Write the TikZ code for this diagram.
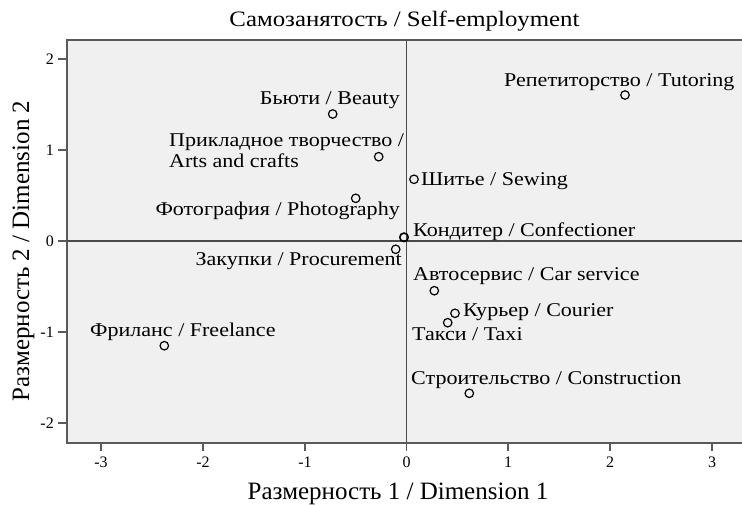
\documentclass[tikz,border=0pt]{standalone}
\usepackage{fontspec}
\setmainfont{Liberation Serif}
\newfontfamily\widefont{Liberation Serif}[FakeStretch=1.13]
\definecolor{plotbg}{HTML}{F0F0F0}
\definecolor{framecol}{HTML}{5A5A5A}
\definecolor{axiscol}{HTML}{4A4A4A}
\begin{document}
\begin{tikzpicture}[x=1pt,y=-1pt,
  pt/.style={circle,draw=black,line width=1.2pt,minimum size=8.5pt,inner sep=0pt},
  lbl/.style={inner sep=0pt,font=\widefont\fontsize{19.5}{22}\selectfont},
  ticklbl/.style={inner sep=0pt,font=\fontsize{16}{18}\selectfont},
  axtitle/.style={inner sep=0pt,font=\fontsize{25}{28}\selectfont},
  tickline/.style={draw=framecol,line width=1.4pt}]
\useasboundingbox (0,0) rectangle (742,504);
% plot area
\fill[plotbg] (67,40) rectangle (742,443);
\draw[framecol,line width=1.5pt] (742,40) -- (67,40) -- (67,443) -- (742,443);
% zero axes
\draw[axiscol,line width=1.5pt] (406.5,40) -- (406.5,443);
\draw[axiscol,line width=1.5pt] (67,241) -- (742,241);
% y ticks
\foreach \v/\y in {2/59,1/150,0/241,-1/332,-2/423}{
  \draw[tickline] (58,\y) -- (67,\y);
  \node[ticklbl,anchor=east] at (54,\y) {\v};
}
% x ticks
\foreach \v/\x in {-3/101,-2/203,-1/305,0/406.5,1/508,2/610,3/712}{
  \draw[tickline] (\x,443) -- (\x,451);
  \node[ticklbl,anchor=base] at (\x,467) {\v};
}
% titles
\node[inner sep=0pt,font=\widefont\fontsize{22}{24}\selectfont,anchor=base] (title) at (404.5,26) {Самозанятость / Self-employment};
\node[axtitle,anchor=base] (xtitle) at (398,499) {Размерность 1 / Dimension 1};
\node[axtitle,anchor=base,rotate=90] (ytitle) at (29,251) {Размерность 2 / Dimension 2};
% points
\node[pt] (beauty) at (332.7,114) {};
\node[pt] (arts) at (378.7,156.7) {};
\node[pt] (sewing) at (414,179.3) {};
\node[pt] (photo) at (355.7,198.3) {};
\node[pt,line width=1.6pt] (conf) at (404,237.3) {};
\node[pt] (proc) at (395.7,249.3) {};
\node[pt] (car) at (434.3,290.7) {};
\node[pt] (courier) at (455,313.3) {};
\node[pt] (taxi) at (447.7,322.7) {};
\node[pt] (cons) at (469.3,393.3) {};
\node[pt] (tutor) at (625,95) {};
\node[pt] (free) at (164.3,345.7) {};
% labels
\node[lbl,anchor=base east] (beautyL) at (400,104) {Бьюти / Beauty};
\node[lbl,anchor=base west] (artsL1) at (169,146.7) {Прикладное творчество /};
\node[lbl,anchor=base west] (artsL2) at (169,167) {Arts and crafts};
\node[lbl,anchor=base east] (photoL) at (400,215) {Фотография / Photography};
\node[lbl,anchor=base east] (procL) at (402,265) {Закупки / Procurement};
\node[lbl,anchor=base west] (confL) at (413,236) {Кондитер / Confectioner};
\node[lbl,anchor=base west] (sewL) at (421,185) {Шитье / Sewing};
\node[lbl,anchor=base west] (carL) at (413,280) {Автосервис / Car service};
\node[lbl,anchor=base west] (courL) at (463,316.7) {Курьер / Courier};
\node[lbl,anchor=base west] (taxiL) at (412,340.7) {Такси / Taxi};
\node[lbl,anchor=base west] (consL) at (411,384) {Строительство / Construction};
\node[lbl,anchor=base west] (tutL) at (504,86.7) {Репетиторство / Tutoring};
\node[lbl,anchor=base west] (freeL) at (90,336.7) {Фриланс / Freelance};
\end{tikzpicture}
\end{document}
